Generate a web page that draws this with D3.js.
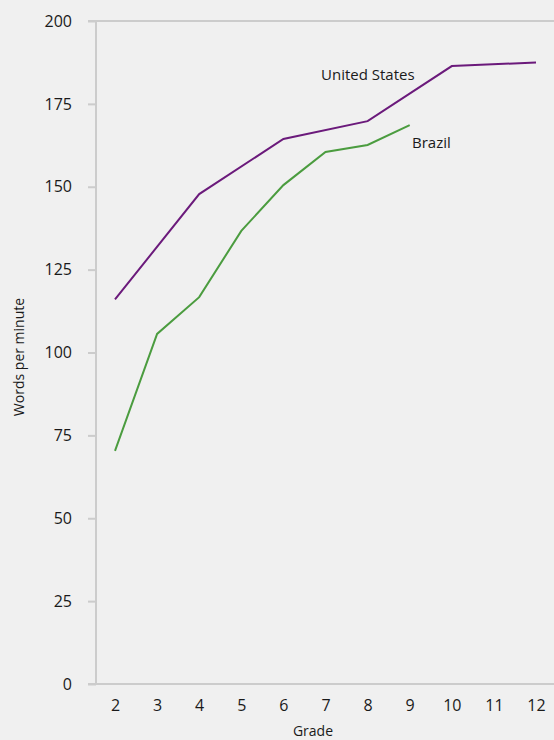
<!DOCTYPE html>
<html>
<head>
<meta charset="utf-8">
<script src="https://cdn.jsdelivr.net/npm/d3@7"></script>
<style>
  html, body { margin: 0; padding: 0; background: #f0f0f0; }
  svg { display: block; }
  text { font-family: "Open Sans", "DejaVu Sans", sans-serif; fill: #1a1a1a; }
</style>
</head>
<body>
<svg id="chart" width="554" height="740"></svg>
<script>
const usGrades = [2, 4, 6, 8, 10, 12];
const usValues = [116, 147.8, 164.4, 169.8, 186.4, 187.5];
const brGrades = [2, 3, 4, 5, 6, 7, 8, 9];
const brValues = [70.3, 105.6, 116.7, 136.7, 150.5, 160.5, 162.6, 168.6];
const xTicks = [2, 3, 4, 5, 6, 7, 8, 9, 10, 11, 12];
const yTicks = [0, 25, 50, 75, 100, 125, 150, 175, 200];

const svg = d3.select("#chart");
const x = d3.scaleLinear().domain([2, 12]).range([115, 536]);
const y = d3.scaleLinear().domain([0, 200]).range([684, 21]);
const axisColor = "#cccccc";

svg.append("line").attr("x1", 88).attr("x2", 554).attr("y1", y(200)).attr("y2", y(200))
  .attr("stroke", axisColor).attr("stroke-width", 2);
svg.append("line").attr("x1", 88).attr("x2", 554).attr("y1", y(0)).attr("y2", y(0))
  .attr("stroke", axisColor).attr("stroke-width", 2);
svg.append("line").attr("x1", 96).attr("x2", 96).attr("y1", y(200)).attr("y2", y(0))
  .attr("stroke", axisColor).attr("stroke-width", 2);

const yAxis = d3.axisLeft(y).tickValues(yTicks).tickSize(8).tickPadding(16).tickFormat(d3.format("d"));
const gy = svg.append("g").attr("transform", "translate(96,0)").call(yAxis);
gy.select(".domain").remove();
gy.selectAll(".tick line").attr("stroke", axisColor).attr("stroke-width", 2);
gy.selectAll(".tick text").style("font-size", "16px").attr("fill", "#1a1a1a")
  .style("font-family", "'Open Sans', sans-serif");

const xAxis = d3.axisBottom(x).tickValues(xTicks).tickSize(0).tickPadding(16).tickFormat(d3.format("d"));
const gx = svg.append("g").attr("transform", `translate(0,${y(0)})`).call(xAxis);
gx.select(".domain").remove();
gx.selectAll(".tick text").style("font-size", "16px").attr("fill", "#1a1a1a")
  .style("font-family", "'Open Sans', sans-serif");

svg.append("text").attr("x", 313).attr("y", 736).attr("text-anchor", "middle")
  .style("font-size", "14px").text("Grade");
svg.append("text").attr("transform", "translate(24,357) rotate(-90)").attr("text-anchor", "middle")
  .style("font-size", "14px").text("Words per minute");

const line = d3.line().x(d => x(d[0])).y(d => y(d[1]));

svg.append("path").datum(brGrades.map((g, i) => [g, brValues[i]]))
  .attr("d", line).attr("fill", "none").attr("stroke", "#4b9c3f").attr("stroke-width", 2);
svg.append("path").datum(usGrades.map((g, i) => [g, usValues[i]]))
  .attr("d", line).attr("fill", "none").attr("stroke", "#6b1a7b").attr("stroke-width", 2);

svg.append("text").attr("x", 321).attr("y", 80).style("font-size", "15px").text("United States");
svg.append("text").attr("x", 412).attr("y", 148).style("font-size", "15px").text("Brazil");
</script>
</body>
</html>
